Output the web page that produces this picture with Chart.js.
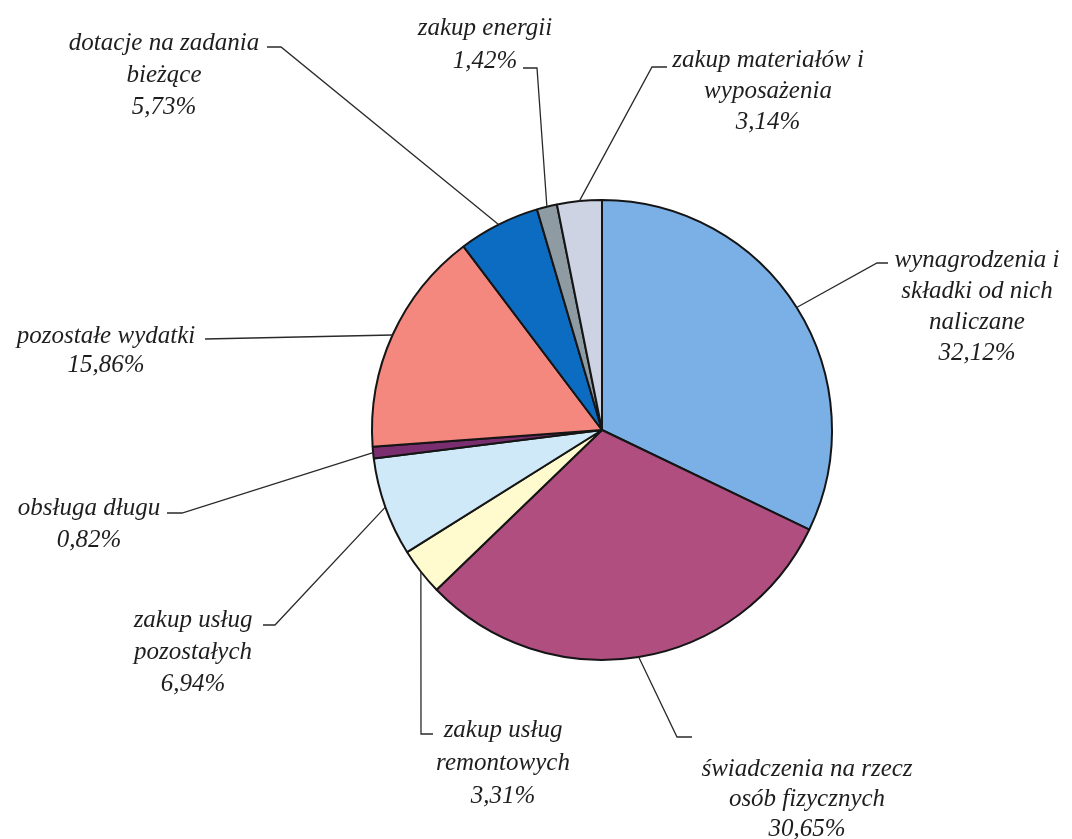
<!DOCTYPE html>
<html>
<head>
<meta charset="utf-8">
<script src="https://cdn.jsdelivr.net/npm/chart.js@4"></script>
<style>
  html, body { margin: 0; padding: 0; background: #ffffff; }
  #wrap { width: 1072px; height: 839px; position: relative; }
</style>
</head>
<body>
<div id="wrap"><canvas id="c" width="1072" height="839"></canvas></div>
<script>
// ---- data ----
const categories = [
  ['wynagrodzenia i', 'składki od nich', 'naliczane'],
  ['świadczenia na rzecz', 'osób fizycznych'],
  ['zakup usług', 'remontowych'],
  ['zakup usług', 'pozostałych'],
  ['obsługa długu'],
  ['pozostałe wydatki'],
  ['dotacje na zadania', 'bieżące'],
  ['zakup energii'],
  ['zakup materiałów i', 'wyposażenia']
];
const shares = [32.12, 30.65, 3.31, 6.94, 0.82, 15.86, 5.73, 1.42, 3.14];
const sliceColors = ['#7AB0E6', '#B04E80', '#FFFBCF', '#CFE9F9', '#7B2E6F', '#F4877E', '#0B6CC2', '#8E9BA3', '#CDD3E3'];

// ---- label layout (text placement, not data) ----
const labelLayout = [
  { cx: 977, y: 267, lh: 31, elbow: [877, 263], end: [888, 263] },
  { cx: 807, y: 776, lh: 30, elbow: [677, 737], end: [692, 737] },
  { cx: 503, y: 737, lh: 33, elbow: [421, 734], end: [433, 734] },
  { cx: 193, y: 627, lh: 32, elbow: [275, 625], end: [263, 625] },
  { cx: 89,  y: 515, lh: 32, elbow: [182, 513], end: [167, 513] },
  { cx: 106, y: 343, lh: 29, elbow: [205, 339], end: [205, 339] },
  { cx: 164, y: 50,  lh: 32, elbow: [281, 47],  end: [267, 47] },
  { cx: 485, y: 35,  lh: 33, elbow: [537, 68],  end: [523, 68] },
  { cx: 768, y: 67,  lh: 31, elbow: [652, 67],  end: [667, 67] }
];

const fmt = v => v.toFixed(2).replace('.', ',') + '%';

const leaderLabels = {
  id: 'leaderLabels',
  afterDatasetsDraw(chart) {
    const ctx = chart.ctx;
    const meta = chart.getDatasetMeta(0);
    const ds = chart.data.datasets[0];
    ctx.save();
    meta.data.forEach((arc, i) => {
      const p = arc.getProps(['x', 'y', 'startAngle', 'endAngle', 'outerRadius'], true);
      const mid = (p.startAngle + p.endAngle) / 2;
      const ax = p.x + Math.cos(mid) * p.outerRadius;
      const ay = p.y + Math.sin(mid) * p.outerRadius;
      const L = labelLayout[i];
      ctx.strokeStyle = '#2a2a2a';
      ctx.lineWidth = 1.3;
      ctx.beginPath();
      ctx.moveTo(ax, ay);
      ctx.lineTo(L.elbow[0], L.elbow[1]);
      ctx.lineTo(L.end[0], L.end[1]);
      ctx.stroke();

      const lines = chart.data.labels[i].concat([fmt(ds.data[i])]);
      ctx.fillStyle = '#1e1e1e';
      ctx.font = 'italic 25px "Liberation Serif", serif';
      ctx.textAlign = 'center';
      ctx.textBaseline = 'alphabetic';
      lines.forEach((t, k) => ctx.fillText(t, L.cx, L.y + k * L.lh));
    });
    ctx.restore();
  }
};

new Chart(document.getElementById('c'), {
  type: 'pie',
  data: {
    labels: categories,
    datasets: [{
      data: shares,
      backgroundColor: sliceColors,
      borderColor: '#151515',
      borderWidth: 2
    }]
  },
  options: {
    responsive: false,
    animation: false,
    layout: { padding: { left: 371, right: 239, top: 199, bottom: 178 } },
    plugins: {
      legend: { display: false },
      tooltip: { enabled: false }
    }
  },
  plugins: [leaderLabels]
});
</script>
</body>
</html>
